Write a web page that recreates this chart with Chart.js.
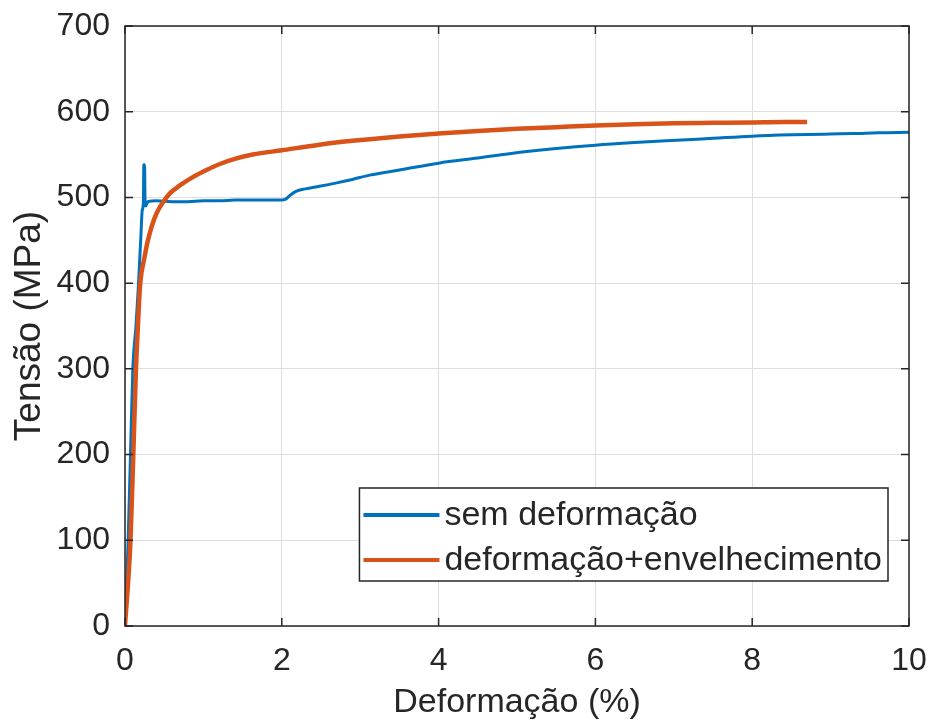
<!DOCTYPE html>
<html>
<head>
<meta charset="utf-8">
<script src="https://cdn.jsdelivr.net/npm/chart.js@4.4.1/dist/chart.umd.min.js"></script>
<style>
  html, body { margin: 0; padding: 0; background: #fff; }
  canvas { display: block; }
</style>
</head>
<body>
<canvas id="grafico" width="932" height="725"></canvas>
<script>
// valores (deformacao %, tensao MPa)
var semDefX = [0, 0.04, 0.07, 0.10, 0.14, 0.17, 0.20, 0.22, 0.235, 0.24, 0.25, 0.255, 0.265, 0.29, 0.4, 0.6, 0.8, 1.0, 1.2, 1.4, 1.6, 1.8, 2.0, 2.05, 2.1, 2.18, 2.3, 2.48, 2.7, 2.9, 3.12, 3.5, 4.0, 4.5, 4.9, 5.5, 6.0, 6.5, 7.1, 7.5, 8.0, 8.5, 9.0, 9.3, 9.6, 10.0];
var semDefY = [0, 100, 200, 300, 350, 395, 450, 485, 495, 538, 538, 500, 490, 495, 496, 495, 495, 496, 496, 497, 497, 497, 497, 498, 502, 507, 510, 513, 517, 521, 526, 532, 540, 546, 551, 557, 561, 564, 567, 569, 571.5, 573, 574, 574.5, 575.5, 576];

var envX = [0, 0.07, 0.106, 0.14, 0.17, 0.19, 0.21, 0.24, 0.285, 0.34, 0.40, 0.49, 0.575, 0.70, 0.87, 1.04, 1.21, 1.4, 1.63, 2.0, 2.48, 2.9, 3.12, 3.5, 4.0, 4.5, 5.0, 5.5, 6.0, 6.5, 7.0, 7.5, 8.0, 8.4, 8.7];
var envY = [0, 100, 200, 300, 360, 395, 412, 426, 447, 466, 481, 495, 505, 514, 524, 532, 539, 545, 550, 555, 561.5, 566, 568, 571, 574.5, 577.5, 580, 582, 584, 585.5, 586.5, 587, 587.5, 588, 588];

var nomes = ['sem deformação', 'deformação+envelhecimento'];
var cores = ['#0072BD', '#D95319'];

var xTicks = [0, 2, 4, 6, 8, 10];
var yTicks = [0, 100, 200, 300, 400, 500, 600, 700];

function pontos(xs, ys) {
  return xs.map(function(x, i) { return {x: x, y: ys[i]}; });
}

var fonte = "'Liberation Sans', Arial, Helvetica, sans-serif";
var corTexto = '#262626';

// moldura e ticks para dentro (estilo matlab)
var moldura = {
  id: 'moldura',
  afterDatasetsDraw: function(chart) {
    var c = chart.ctx, a = chart.chartArea;
    var sx = chart.scales.x, sy = chart.scales.y;
    var t = 8;
    c.save();
    c.strokeStyle = corTexto;
    c.lineWidth = 1.5;
    c.beginPath();
    xTicks.forEach(function(v) {
      var px = sx.getPixelForValue(v);
      c.moveTo(px, a.bottom); c.lineTo(px, a.bottom - t);
      c.moveTo(px, a.top); c.lineTo(px, a.top + t);
    });
    yTicks.forEach(function(v) {
      var py = sy.getPixelForValue(v);
      c.moveTo(a.left, py); c.lineTo(a.left + t, py);
      c.moveTo(a.right, py); c.lineTo(a.right - t, py);
    });
    c.stroke();
    c.strokeRect(a.left, a.top, a.right - a.left, a.bottom - a.top);
    c.restore();
  }
};

// legenda dentro do grafico
var legenda = {
  id: 'legenda',
  afterDraw: function(chart) {
    var c = chart.ctx, a = chart.chartArea;
    c.save();
    c.font = '34px ' + fonte;
    var larg = 0;
    nomes.forEach(function(n) { larg = Math.max(larg, c.measureText(n).width); });
    var w = 4 + 76 + 5 + larg + 6;
    var h = 93;
    var x0 = a.right - 21 - w;
    var y0 = a.bottom - 45 - h;
    c.fillStyle = '#fff';
    c.fillRect(x0, y0, w, h);
    c.strokeStyle = corTexto;
    c.lineWidth = 1.5;
    c.strokeRect(x0, y0, w, h);
    c.textBaseline = 'middle';
    nomes.forEach(function(n, i) {
      var yy = y0 + 27 + i * 45;
      c.strokeStyle = cores[i];
      c.lineWidth = 4;
      c.beginPath();
      c.moveTo(x0 + 4, yy); c.lineTo(x0 + 80, yy);
      c.stroke();
      c.fillStyle = corTexto;
      c.fillText(n, x0 + 85, yy + 1);
    });
    c.restore();
  }
};

function semFolga(s) {
  s.paddingTop = 0; s.paddingBottom = 0; s.paddingLeft = 0; s.paddingRight = 0;
}

new Chart(document.getElementById('grafico'), {
  type: 'scatter',
  data: {
    datasets: [
      {
        label: nomes[0],
        data: pontos(semDefX, semDefY),
        showLine: true,
        borderColor: cores[0],
        borderWidth: 3,
        pointRadius: 0,
        cubicInterpolationMode: 'monotone',
        order: 1
      },
      {
        label: nomes[1],
        data: pontos(envX, envY),
        showLine: true,
        borderColor: cores[1],
        borderWidth: 4.5,
        pointRadius: 0,
        cubicInterpolationMode: 'monotone',
        order: 0
      }
    ]
  },
  options: {
    responsive: false,
    animation: false,
    devicePixelRatio: 1,
    layout: { padding: { top: 26, right: 23, left: 0, bottom: 0 } },
    plugins: { legend: { display: false }, tooltip: { enabled: false } },
    scales: {
      x: {
        type: 'linear',
        min: 0, max: 10,
        afterFit: function(s) { s.height = 99; semFolga(s); },
        afterBuildTicks: function(s) { s.ticks = xTicks.map(function(v) { return {value: v}; }); },
        border: { display: false },
        grid: { color: '#dedede', lineWidth: 1, drawTicks: false },
        ticks: { padding: 16, color: corTexto, font: { family: fonte, size: 32 } },
        title: { display: true, text: 'Deformação (%)', color: corTexto, padding: { top: 0, bottom: 2 }, font: { family: fonte, size: 34 } }
      },
      y: {
        type: 'linear',
        min: 0, max: 700,
        afterFit: function(s) { s.width = 125; semFolga(s); },
        afterBuildTicks: function(s) { s.ticks = yTicks.map(function(v) { return {value: v}; }); },
        border: { display: false },
        grid: { color: '#dedede', lineWidth: 1, drawTicks: false },
        ticks: { padding: 15, color: corTexto, font: { family: fonte, size: 32 } },
        title: { display: true, text: 'Tensão (MPa)', color: corTexto, padding: { top: 8, bottom: 0 }, font: { family: fonte, size: 37 } }
      }
    }
  },
  plugins: [moldura, legenda]
});
</script>
</body>
</html>
